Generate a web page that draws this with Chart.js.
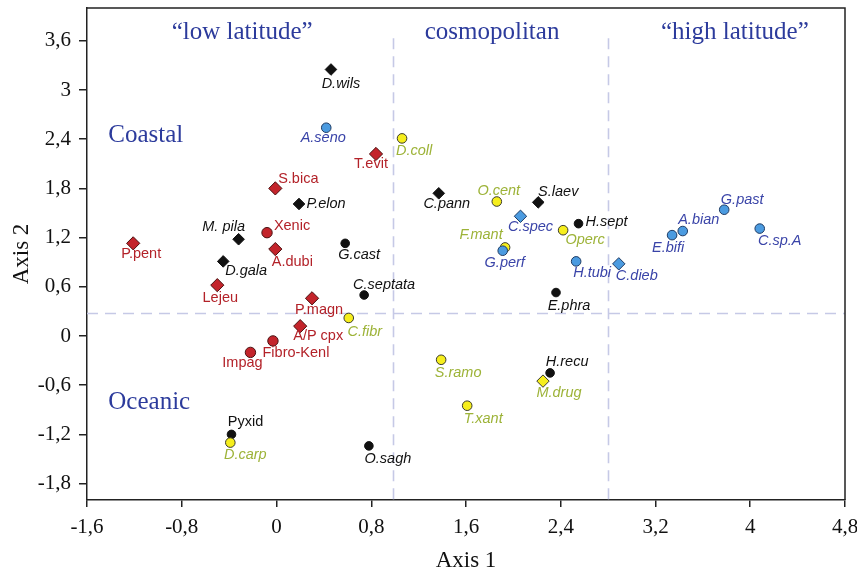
<!DOCTYPE html>
<html><head><meta charset="utf-8">
<script src="https://cdn.jsdelivr.net/npm/chart.js@4"></script>
<style>html,body{margin:0;padding:0;background:#fff}#wrap{width:857px;height:572px}</style>
</head><body><div id="wrap"><canvas id="c" width="857" height="572"></canvas></div>
<script>
// ---- tick values ----
const xTickValues = [-1.6, -0.8, 0, 0.8, 1.6, 2.4, 3.2, 4, 4.8];
const yTickValues = [-1.8, -1.2, -0.6, 0, 0.6, 1.2, 1.8, 2.4, 3, 3.6];

// ---- series (species scores on axis 1 / axis 2) ----
const blueCircleNames = ['A.seno', 'G.perf', 'H.tubi', 'E.bifi', 'A.bian', 'G.past', 'C.sp.A'];
const blueCircleX = [0.42, 1.91, 2.53, 3.34, 3.43, 3.78, 4.08];
const blueCircleY = [2.54, 1.04, 0.91, 1.23, 1.28, 1.54, 1.31];

const blueDiamondNames = ['C.spec', 'C.dieb'];
const blueDiamondX = [2.06, 2.89];
const blueDiamondY = [1.46, 0.88];

const yellowCircleNames = ['D.coll', 'O.cent', 'F.mant', 'Operc', 'C.fibr', 'S.ramo', 'T.xant', 'D.carp'];
const yellowCircleX = [1.06, 1.86, 1.93, 2.42, 0.61, 1.39, 1.61, -0.39];
const yellowCircleY = [2.41, 1.64, 1.08, 1.29, 0.22, -0.29, -0.85, -1.30];

const yellowDiamondNames = ['M.drug'];
const yellowDiamondX = [2.25];
const yellowDiamondY = [-0.55];

const redDiamondNames = ['T.evit', 'S.bica', 'P.pent', 'A.dubi', 'Lejeu', 'P.magn', 'A/P cpx'];
const redDiamondX = [0.84, -0.01, -1.21, -0.01, -0.50, 0.30, 0.20];
const redDiamondY = [2.22, 1.80, 1.13, 1.06, 0.62, 0.46, 0.12];

const redCircleNames = ['Xenic', 'Fibro-Kenl', 'Impag'];
const redCircleX = [-0.08, -0.03, -0.22];
const redCircleY = [1.26, -0.06, -0.20];

const blackCircleNames = ['G.cast', 'C.septata', 'H.sept', 'E.phra', 'H.recu', 'Pyxid', 'O.sagh'];
const blackCircleX = [0.58, 0.74, 2.55, 2.36, 2.31, -0.38, 0.78];
const blackCircleY = [1.13, 0.50, 1.37, 0.53, -0.45, -1.20, -1.34];

const blackDiamondNames = ['D.wils', 'P.elon', 'M. pila', 'D.gala', 'C.pann', 'S.laev'];
const blackDiamondX = [0.46, 0.19, -0.32, -0.45, 1.37, 2.21];
const blackDiamondY = [3.25, 1.61, 1.18, 0.91, 1.74, 1.63];

// region dividers and region captions
const xDividers = [0.98, 2.8];
const yDivider = 0.28;
const dividerTop = 3.63;
const regionTexts = ['\u201Clow latitude\u201D', 'cosmopolitan', '\u201Chigh latitude\u201D', 'Coastal', 'Oceanic'];
const regionX = [-0.29, 1.82, 3.87, -1.42, -1.42];
const regionY = [3.70, 3.70, 3.70, 2.44, -0.81];
const regionAlign = ['center', 'center', 'center', 'left', 'left'];

// ---- label placement (pixel offsets from the marker; style only) ----
const labelOffset = {
  'D.wils':[10,14], 'A.seno':[-3,10], 'T.evit':[-5,10], 'D.coll':[12,13], 'S.bica':[23,-9],
  'P.elon':[27,0], 'M. pila':[-15,-12], 'Xenic':[25,-7], 'P.pent':[8,11], 'A.dubi':[17,13],
  'D.gala':[23,10], 'G.cast':[14,12], 'Lejeu':[3,13], 'C.septata':[20,-10], 'P.magn':[7,12],
  'C.fibr':[16,14], 'A/P cpx':[18,10], 'Fibro-Kenl':[23,12], 'Impag':[-8,11], 'Pyxid':[14,-12],
  'D.carp':[15,12], 'O.sagh':[19,13], 'C.pann':[8,11], 'O.cent':[2,-11], 'S.laev':[20,-10],
  'C.spec':[10,11], 'H.sept':[28,-2], 'F.mant':[-24,-12], 'Operc':[22,10], 'G.perf':[2,12],
  'H.tubi':[16,12], 'C.dieb':[18,12], 'E.phra':[13,13], 'E.bifi':[-4,13], 'A.bian':[16,-11],
  'G.past':[18,-10], 'C.sp.A':[20,12], 'S.ramo':[17,13], 'H.recu':[17,-11], 'M.drug':[16,12],
  'T.xant':[16,13]
};

function pts(xs, ys){ return xs.map((x,i)=>({x:x, y:ys[i]})); }
function fmt(v){ return Number.isInteger(v) ? String(v) : String(v).replace('.', ','); }

const groups = [
  {names: blueCircleNames, xs: blueCircleX, ys: blueCircleY, style:'circle', r:4.8, fill:'#4b9be0', border:'#1f3b63', lbl:'#3a44a8', italic:true},
  {names: blueDiamondNames, xs: blueDiamondX, ys: blueDiamondY, style:'rectRot', r:6.2, fill:'#4b9be0', border:'#1f3b63', lbl:'#3a44a8', italic:true},
  {names: yellowCircleNames, xs: yellowCircleX, ys: yellowCircleY, style:'circle', r:4.8, fill:'#f6ee1c', border:'#3a3a2a', lbl:'#9db338', italic:true},
  {names: yellowDiamondNames, xs: yellowDiamondX, ys: yellowDiamondY, style:'rectRot', r:6.2, fill:'#f6ee1c', border:'#3a3a2a', lbl:'#9db338', italic:true},
  {names: redDiamondNames, xs: redDiamondX, ys: redDiamondY, style:'rectRot', r:6.6, fill:'#c3242b', border:'#4a1010', lbl:'#b32229', italic:false},
  {names: redCircleNames, xs: redCircleX, ys: redCircleY, style:'circle', r:5.2, fill:'#c3242b', border:'#4a1010', lbl:'#b32229', italic:false},
  {names: blackCircleNames, xs: blackCircleX, ys: blackCircleY, style:'circle', r:4.3, fill:'#111111', border:'#111111', lbl:'#111111', italic:true},
  {names: blackDiamondNames, xs: blackDiamondX, ys: blackDiamondY, style:'rectRot', r:5.8, fill:'#111111', border:'#111111', lbl:'#111111', italic:true}
];
const uprightLabels = ['Pyxid'];

const datasets = groups.map(g => ({
  data: pts(g.xs, g.ys),
  names: g.names,
  pointStyle: g.style,
  pointRadius: g.r,
  pointHoverRadius: g.r,
  backgroundColor: g.fill,
  borderColor: g.border,
  pointBorderWidth: 1,
  showLine: false,
  lblColor: g.lbl,
  lblItalic: g.italic
}));

const overlay = {
  id: 'overlay',
  beforeDatasetsDraw(chart){
    const {ctx, chartArea:a, scales:{x, y}} = chart;
    ctx.save();
    ctx.strokeStyle = '#c6c9e6';
    ctx.lineWidth = 1.6;
    ctx.setLineDash([11, 7]);
    xDividers.forEach(v => {
      const px = Math.round(x.getPixelForValue(v)) + 0.5;
      ctx.beginPath(); ctx.moveTo(px, y.getPixelForValue(dividerTop)); ctx.lineTo(px, a.bottom); ctx.stroke();
    });
    const py = Math.round(y.getPixelForValue(yDivider)) + 0.5;
    ctx.beginPath(); ctx.moveTo(a.left, py); ctx.lineTo(a.right, py); ctx.stroke();
    ctx.setLineDash([]);
    // region captions
    ctx.fillStyle = '#2c3b9c';
    ctx.font = '25px "Liberation Serif", serif';
    ctx.textBaseline = 'middle';
    regionTexts.forEach((t, i) => {
      ctx.textAlign = regionAlign[i];
      ctx.fillText(t, x.getPixelForValue(regionX[i]), y.getPixelForValue(regionY[i]));
    });
    ctx.restore();
  },
  afterDatasetsDraw(chart){
    const {ctx, chartArea:a} = chart;
    ctx.save();
    ctx.textAlign = 'center';
    ctx.textBaseline = 'middle';
    chart.data.datasets.forEach((ds, di) => {
      const meta = chart.getDatasetMeta(di);
      meta.data.forEach((el, i) => {
        const name = ds.names[i];
        const off = labelOffset[name] || [0, 12];
        const it = ds.lblItalic && uprightLabels.indexOf(name) < 0;
        ctx.font = (it ? 'italic ' : '') + '14.5px "Liberation Sans", Arial, sans-serif';
        ctx.fillStyle = ds.lblColor;
        ctx.fillText(name, el.x + off[0], el.y + off[1]);
      });
    });
    // frame top/right
    ctx.strokeStyle = '#222';
    ctx.lineWidth = 1.5;
    ctx.beginPath();
    ctx.moveTo(a.left, a.top); ctx.lineTo(a.right, a.top); ctx.lineTo(a.right, a.bottom);
    ctx.stroke();
    ctx.restore();
  }
};

new Chart(document.getElementById('c'), {
  type: 'scatter',
  data: { datasets },
  options: {
    responsive: false,
    animation: false,
    devicePixelRatio: 1,
    layout: { padding: { top: 8, right: 12, left: 0, bottom: 0 } },
    plugins: { legend: { display: false }, tooltip: { enabled: false } },
    scales: {
      x: {
        type: 'linear', min: -1.6, max: 4.8,
        afterBuildTicks: s => { s.ticks = xTickValues.map(v => ({value: v})); },
        afterFit: s => { s.height = 72; s.paddingLeft = 0; s.paddingRight = 0; },
        ticks: { callback: v => fmt(v), color: '#111', padding: 8, maxRotation: 0, autoSkip: false,
                 font: { family: '"Liberation Serif", serif', size: 21 } },
        grid: { drawOnChartArea: false, drawTicks: true, tickLength: 7, color: '#222', lineWidth: 1.5 },
        border: { display: true, color: '#222', width: 1.5 },
        title: { display: true, text: 'Axis 1', color: '#111', padding: { top: 0, bottom: 0 },
                 font: { family: '"Liberation Serif", serif', size: 23, lineHeight: 1 } }
      },
      y: {
        type: 'linear', min: -2, max: 4,
        afterBuildTicks: s => { s.ticks = yTickValues.map(v => ({value: v})); },
        afterFit: s => { s.width = 87; s.paddingTop = 0; s.paddingBottom = 0; },
        ticks: { callback: v => fmt(v), color: '#111', padding: 8, autoSkip: false,
                 font: { family: '"Liberation Serif", serif', size: 21 } },
        grid: { drawOnChartArea: false, drawTicks: true, tickLength: 8, color: '#222', lineWidth: 1.5 },
        border: { display: true, color: '#222', width: 1.5 },
        title: { display: true, text: 'Axis 2', color: '#111', padding: { top: 8, bottom: 0 },
                 font: { family: '"Liberation Serif", serif', size: 23 } }
      }
    }
  },
  plugins: [overlay]
});
</script>
</body></html>
